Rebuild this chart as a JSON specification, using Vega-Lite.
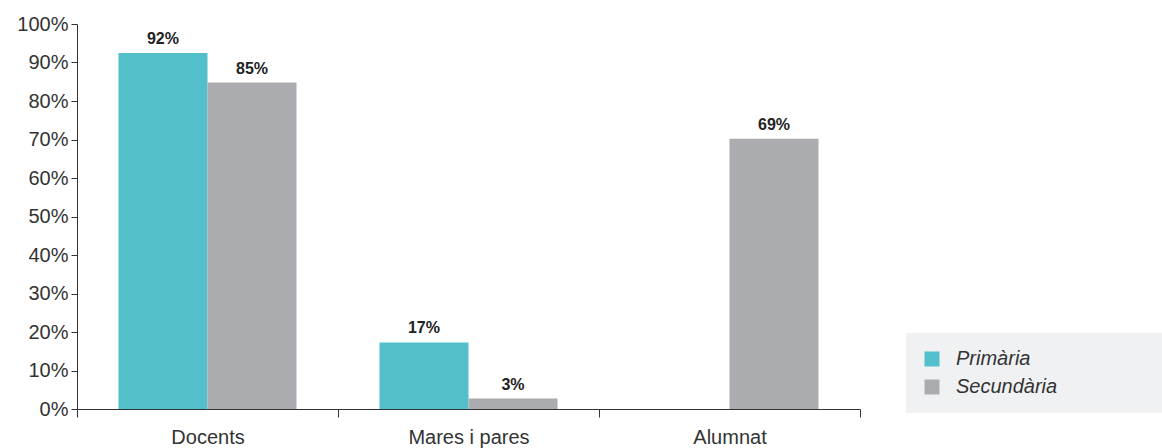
{
  "$schema": "https://vega.github.io/schema/vega-lite/v6.json",
  "width": 783,
  "height": 385,
  "autosize": {"type": "none"},
  "padding": {"left": 77, "top": 24, "right": 302, "bottom": 39},
  "background": "white",
  "config": {"view": {"stroke": null}, "font": "Liberation Sans"},
  "data": {
    "values": [
      {"grup": "Docents", "etapa": "Primària", "valor": 92.5, "etiqueta": "92%"},
      {"grup": "Docents", "etapa": "Secundària", "valor": 84.8, "etiqueta": "85%"},
      {"grup": "Mares i pares", "etapa": "Primària", "valor": 17.3, "etiqueta": "17%"},
      {"grup": "Mares i pares", "etapa": "Secundària", "valor": 2.7, "etiqueta": "3%"},
      {"grup": "Alumnat", "etapa": "Secundària", "valor": 70.2, "etiqueta": "69%"}
    ]
  },
  "encoding": {
    "x": {
      "field": "grup", "type": "nominal",
      "sort": ["Docents", "Mares i pares", "Alumnat"],
      "scale": {"paddingInner": 0, "paddingOuter": 0},
      "axis": {
        "title": null, "labelAngle": 0, "labelFontSize": 20, "labelColor": "#333333",
        "labelPadding": 10, "domainColor": "#333333", "tickColor": "#333333",
        "tickSize": 8, "tickBand": "extent"
      }
    },
    "xOffset": {
      "field": "etapa", "type": "nominal", "sort": ["Primària", "Secundària"],
      "scale": {"domain": ["Primària", "Secundària"], "paddingInner": 0, "paddingOuter": 0.466}
    },
    "y": {
      "field": "valor", "type": "quantitative",
      "scale": {"domain": [0, 100]},
      "axis": {
        "title": null, "values": [0, 10, 20, 30, 40, 50, 60, 70, 80, 90, 100],
        "labelExpr": "datum.value + '%'", "grid": false,
        "labelFontSize": 20, "labelColor": "#333333", "domainColor": "#333333",
        "tickColor": "#333333", "tickSize": 6, "labelPadding": 3
      }
    }
  },
  "layer": [
    {
      "mark": {"type": "bar"},
      "encoding": {
        "color": {
          "field": "etapa", "type": "nominal",
          "scale": {"domain": ["Primària", "Secundària"], "range": ["#52BFCB", "#ABACB0"]},
          "legend": {
            "title": null, "orient": "none", "legendX": 829, "legendY": 309,
            "fillColor": "#F0F1F3", "padding": 16, "symbolType": "square",
            "symbolSize": 225, "symbolStrokeWidth": 0, "labelFontSize": 20,
            "labelFontStyle": "italic", "labelColor": "#333333", "labelOffset": 14,
            "rowPadding": 8, "labelLimit": 400,
            "labelExpr": "datum.label + '\u00a0\u00a0\u00a0\u00a0\u00a0\u00a0\u00a0\u00a0\u00a0\u00a0\u00a0\u00a0\u00a0\u00a0\u00a0\u00a0\u200b'"
          }
        }
      }
    },
    {
      "mark": {"type": "text", "dy": -6, "fontWeight": "bold", "fontSize": 16, "color": "#222222", "baseline": "bottom"},
      "encoding": {"text": {"field": "etiqueta"}}
    }
  ]
}
